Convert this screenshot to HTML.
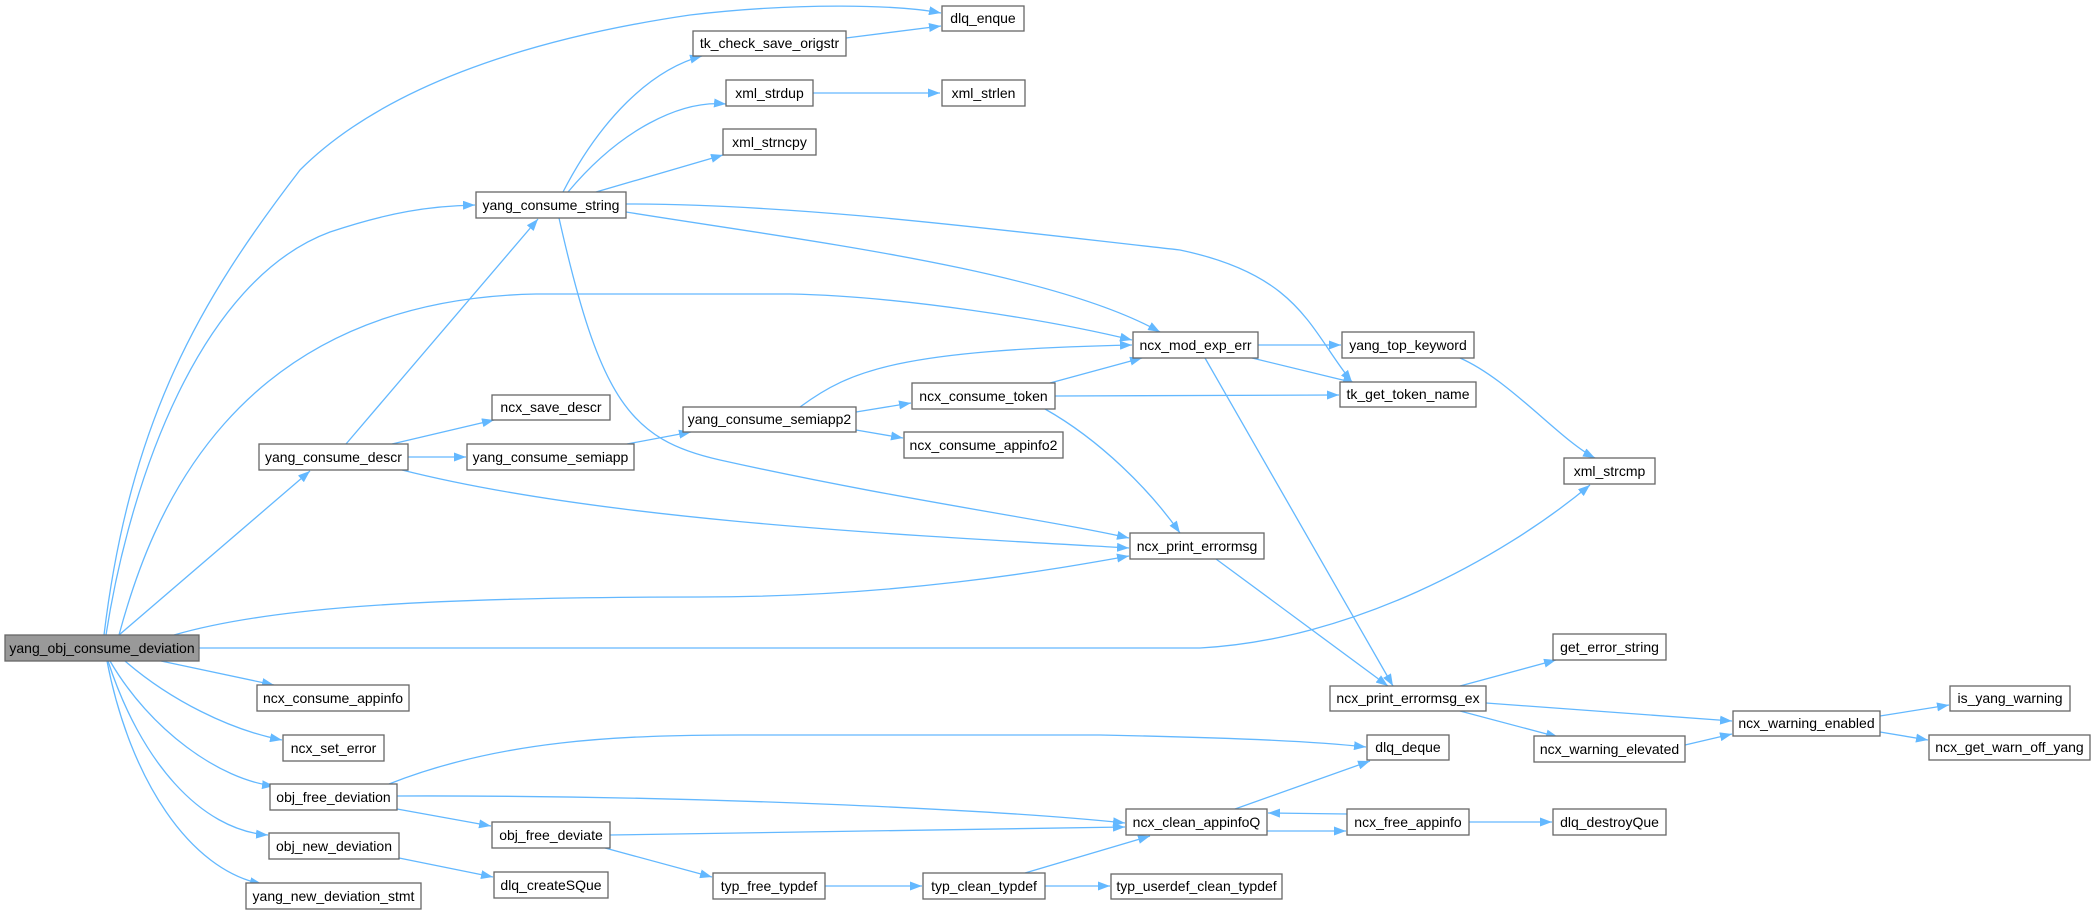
<!DOCTYPE html>
<html><head><meta charset="utf-8"><style>
html,body{margin:0;padding:0;background:#fff;}
svg{display:block;}
text{font-family:"Liberation Sans",Arial,sans-serif;font-size:14px;fill:#000;}
.b{fill:#fff;stroke:#666;stroke-width:1.3;}
.e{fill:none;stroke:#63b8ff;stroke-width:1.3;marker-end:url(#a);}
</style></head><body>
<svg width="2091" height="914" viewBox="0 0 2091 914" xmlns="http://www.w3.org/2000/svg">
<defs><marker id="a" markerWidth="12" markerHeight="9" refX="12" refY="4.5" orient="auto" markerUnits="userSpaceOnUse"><path d="M0,0 L12,4.5 L0,9 Z" fill="#63b8ff"/></marker></defs>
<g>
<path class="e" d="M104,635 C130,420 200,300 300,170 C380,90 520,40 690,15 C800,2 900,5 941,13"/>
<path class="e" d="M106,635 C130,480 200,280 330,232 C390,212 430,206 475,205"/>
<path class="e" d="M119,635 C150,520 230,300 536,294 L790,294 C900,296 1050,320 1132,340"/>
<path class="e" d="M174,635 C260,610 400,597 700,597 C900,597 1050,570 1129,556"/>
<path class="e" d="M199,648 L1200,648 C1350,640 1500,560 1590,485"/>
<path class="e" d="M119,635 L310,471"/>
<path class="e" d="M161,661 L274,685"/>
<path class="e" d="M125,661 C170,700 230,730 282,740"/>
<path class="e" d="M110,661 C150,730 220,780 274,786"/>
<path class="e" d="M108,661 C140,760 200,830 268,835"/>
<path class="e" d="M107,661 C130,780 190,870 262,884"/>
<path class="e" d="M563,192 C600,120 650,70 702,56"/>
<path class="e" d="M568,192 C620,130 680,100 726,104"/>
<path class="e" d="M596,192 L723,155"/>
<path class="e" d="M626,204 C800,204 1000,230 1180,250 C1300,275 1310,330 1352,382"/>
<path class="e" d="M626,212 C800,240 1050,270 1160,332"/>
<path class="e" d="M559,218 C600,400 630,440 720,460 C900,500 1050,520 1129,538"/>
<path class="e" d="M346,444 L538,219"/>
<path class="e" d="M392,444 L494,420"/>
<path class="e" d="M408,457 L466,457"/>
<path class="e" d="M402,470 C600,520 900,535 1129,548"/>
<path class="e" d="M627,444 L691,432"/>
<path class="e" d="M856,412 L911,403"/>
<path class="e" d="M856,430 L903,438"/>
<path class="e" d="M800,407 C850,370 900,350 1132,345"/>
<path class="e" d="M1050,383 L1142,358"/>
<path class="e" d="M1055,396 L1339,395"/>
<path class="e" d="M1045,409 C1100,440 1150,490 1180,533"/>
<path class="e" d="M1258,345 L1341,345"/>
<path class="e" d="M1252,358 L1355,383"/>
<path class="e" d="M1205,358 L1393,686"/>
<path class="e" d="M1460,358 C1510,380 1560,440 1595,458"/>
<path class="e" d="M1216,559 L1388,686"/>
<path class="e" d="M1460,686 L1556,660"/>
<path class="e" d="M1486,703 L1732,721"/>
<path class="e" d="M1460,711 L1558,737"/>
<path class="e" d="M1685,745 L1732,734"/>
<path class="e" d="M1880,716 L1949,705"/>
<path class="e" d="M1880,732 L1928,740"/>
<path class="e" d="M389,784 C500,740 620,735 740,735 L1100,735 C1250,738 1320,742 1366,747"/>
<path class="e" d="M397,796 C700,795 1000,810 1125,823"/>
<path class="e" d="M397,809 L491,826"/>
<path class="e" d="M610,835 L1125,827"/>
<path class="e" d="M605,848 L712,877"/>
<path class="e" d="M399,858 L493,877"/>
<path class="e" d="M825,886 L922,886"/>
<path class="e" d="M1025,873 L1150,836"/>
<path class="e" d="M1045,886 L1110,886"/>
<path class="e" d="M1235,809 L1370,761"/>
<path class="e" d="M1267,831 L1346,831"/>
<path class="e" d="M1347,814 L1268,813"/>
<path class="e" d="M1469,822 L1552,822"/>
<path class="e" d="M846,38 L941,26"/>
<path class="e" d="M813,93 L940,93"/>
</g>
<g>
<rect x="5" y="635" width="194" height="26" style="fill:#999;stroke:#666;stroke-width:1.3"/><text x="102" y="653" text-anchor="middle">yang_obj_consume_deviation</text>
<rect class="b" x="942" y="6" width="82" height="25"/><text x="983" y="23" text-anchor="middle">dlq_enque</text>
<rect class="b" x="693" y="31" width="153" height="25"/><text x="769.5" y="48" text-anchor="middle">tk_check_save_origstr</text>
<rect class="b" x="726" y="80" width="87" height="26"/><text x="769.5" y="98" text-anchor="middle">xml_strdup</text>
<rect class="b" x="942" y="80" width="83" height="26"/><text x="983.5" y="98" text-anchor="middle">xml_strlen</text>
<rect class="b" x="723" y="129" width="93" height="26"/><text x="769.5" y="147" text-anchor="middle">xml_strncpy</text>
<rect class="b" x="476" y="192" width="150" height="26"/><text x="551" y="210" text-anchor="middle">yang_consume_string</text>
<rect class="b" x="492" y="395" width="118" height="25"/><text x="551" y="412" text-anchor="middle">ncx_save_descr</text>
<rect class="b" x="259" y="444" width="149" height="26"/><text x="333.5" y="462" text-anchor="middle">yang_consume_descr</text>
<rect class="b" x="467" y="444" width="167" height="26"/><text x="550.5" y="462" text-anchor="middle">yang_consume_semiapp</text>
<rect class="b" x="683" y="407" width="173" height="25"/><text x="769.5" y="424" text-anchor="middle">yang_consume_semiapp2</text>
<rect class="b" x="912" y="383" width="143" height="26"/><text x="983.5" y="401" text-anchor="middle">ncx_consume_token</text>
<rect class="b" x="904" y="432" width="159" height="26"/><text x="983.5" y="450" text-anchor="middle">ncx_consume_appinfo2</text>
<rect class="b" x="257" y="685" width="152" height="26"/><text x="333" y="703" text-anchor="middle">ncx_consume_appinfo</text>
<rect class="b" x="283" y="735" width="101" height="26"/><text x="333.5" y="753" text-anchor="middle">ncx_set_error</text>
<rect class="b" x="270" y="784" width="127" height="26"/><text x="333.5" y="802" text-anchor="middle">obj_free_deviation</text>
<rect class="b" x="269" y="833" width="130" height="26"/><text x="334" y="851" text-anchor="middle">obj_new_deviation</text>
<rect class="b" x="246" y="883" width="175" height="26"/><text x="333.5" y="901" text-anchor="middle">yang_new_deviation_stmt</text>
<rect class="b" x="492" y="822" width="118" height="26"/><text x="551" y="840" text-anchor="middle">obj_free_deviate</text>
<rect class="b" x="494" y="872" width="114" height="26"/><text x="551" y="890" text-anchor="middle">dlq_createSQue</text>
<rect class="b" x="713" y="873" width="112" height="26"/><text x="769" y="891" text-anchor="middle">typ_free_typdef</text>
<rect class="b" x="923" y="873" width="122" height="26"/><text x="984" y="891" text-anchor="middle">typ_clean_typdef</text>
<rect class="b" x="1133" y="332" width="125" height="26"/><text x="1195.5" y="350" text-anchor="middle">ncx_mod_exp_err</text>
<rect class="b" x="1342" y="332" width="132" height="26"/><text x="1408" y="350" text-anchor="middle">yang_top_keyword</text>
<rect class="b" x="1340" y="382" width="136" height="25"/><text x="1408" y="399" text-anchor="middle">tk_get_token_name</text>
<rect class="b" x="1564" y="458" width="91" height="26"/><text x="1609.5" y="476" text-anchor="middle">xml_strcmp</text>
<rect class="b" x="1130" y="533" width="134" height="26"/><text x="1197" y="551" text-anchor="middle">ncx_print_errormsg</text>
<rect class="b" x="1553" y="634" width="113" height="26"/><text x="1609.5" y="652" text-anchor="middle">get_error_string</text>
<rect class="b" x="1330" y="686" width="156" height="25"/><text x="1408" y="703" text-anchor="middle">ncx_print_errormsg_ex</text>
<rect class="b" x="1950" y="686" width="120" height="25"/><text x="2010" y="703" text-anchor="middle">is_yang_warning</text>
<rect class="b" x="1733" y="711" width="147" height="25"/><text x="1806.5" y="728" text-anchor="middle">ncx_warning_enabled</text>
<rect class="b" x="1929" y="735" width="161" height="25"/><text x="2009.5" y="752" text-anchor="middle">ncx_get_warn_off_yang</text>
<rect class="b" x="1534" y="736" width="151" height="26"/><text x="1609.5" y="754" text-anchor="middle">ncx_warning_elevated</text>
<rect class="b" x="1367" y="735" width="82" height="25"/><text x="1408" y="752" text-anchor="middle">dlq_deque</text>
<rect class="b" x="1126" y="809" width="141" height="26"/><text x="1196.5" y="827" text-anchor="middle">ncx_clean_appinfoQ</text>
<rect class="b" x="1347" y="809" width="122" height="26"/><text x="1408" y="827" text-anchor="middle">ncx_free_appinfo</text>
<rect class="b" x="1553" y="809" width="113" height="26"/><text x="1609.5" y="827" text-anchor="middle">dlq_destroyQue</text>
<rect class="b" x="1111" y="874" width="171" height="25"/><text x="1196.5" y="891" text-anchor="middle">typ_userdef_clean_typdef</text>
</g>
</svg>
</body></html>
